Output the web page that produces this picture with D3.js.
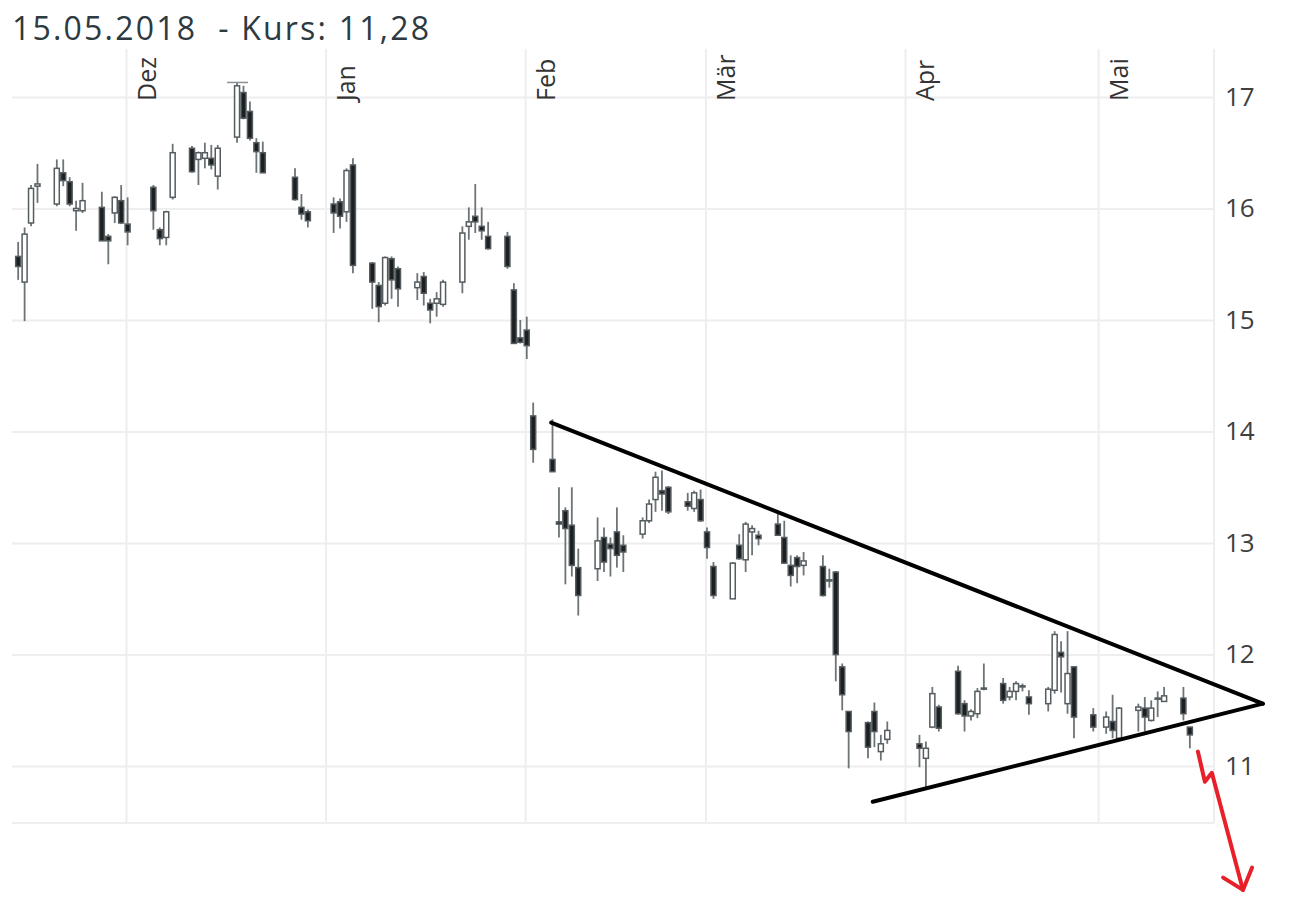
<!DOCTYPE html>
<meta charset="utf-8" />

<style>
  body {
    margin: 0;
    background-color: #fff;
  }
  svg {
    display: block;
  }
  .title {
    font-family: "Open Sans", sans-serif;
    white-space: pre;
  }
  .tick text {
    font-family: "Open Sans", sans-serif;
  }
</style>

<!-- Load d3.js -->
<script src="https://d3js.org/d3.v7.min.js"></script>

<svg id="chart" width="1295" height="901"></svg>

<script>
  // daily candles
  const dates = [
    "2017-11-14", "2017-11-15", "2017-11-16", "2017-11-17",
    "2017-11-20", "2017-11-21", "2017-11-22", "2017-11-23", "2017-11-24",
    "2017-11-27", "2017-11-28", "2017-11-29", "2017-11-30", "2017-12-01",
    "2017-12-05", "2017-12-06", "2017-12-07", "2017-12-08",
    "2017-12-11", "2017-12-12", "2017-12-13", "2017-12-14", "2017-12-15",
    "2017-12-18", "2017-12-19", "2017-12-20", "2017-12-21", "2017-12-22",
    "2017-12-27", "2017-12-28", "2017-12-29",
    "2018-01-02", "2018-01-03", "2018-01-04", "2018-01-05",
    "2018-01-08", "2018-01-09", "2018-01-10", "2018-01-11", "2018-01-12",
    "2018-01-15", "2018-01-16", "2018-01-17", "2018-01-18", "2018-01-19",
    "2018-01-22", "2018-01-23", "2018-01-24", "2018-01-25", "2018-01-26",
    "2018-01-29", "2018-01-30", "2018-01-31", "2018-02-01", "2018-02-02",
    "2018-02-05", "2018-02-06", "2018-02-07", "2018-02-08", "2018-02-09",
    "2018-02-12", "2018-02-13", "2018-02-14", "2018-02-15", "2018-02-16",
    "2018-02-19", "2018-02-20", "2018-02-21", "2018-02-22", "2018-02-23",
    "2018-02-26", "2018-02-27", "2018-02-28", "2018-03-01", "2018-03-02",
    "2018-03-05", "2018-03-06", "2018-03-07", "2018-03-08", "2018-03-09",
    "2018-03-12", "2018-03-13", "2018-03-14", "2018-03-15", "2018-03-16",
    "2018-03-19", "2018-03-20", "2018-03-21", "2018-03-22", "2018-03-23",
    "2018-03-26", "2018-03-27", "2018-03-28", "2018-03-29",
    "2018-04-03", "2018-04-04", "2018-04-05", "2018-04-06",
    "2018-04-09", "2018-04-10", "2018-04-11", "2018-04-12", "2018-04-13",
    "2018-04-16", "2018-04-17", "2018-04-18", "2018-04-19", "2018-04-20",
    "2018-04-23", "2018-04-24", "2018-04-25", "2018-04-26", "2018-04-27",
    "2018-04-30", "2018-05-02", "2018-05-03", "2018-05-04",
    "2018-05-07", "2018-05-08", "2018-05-09", "2018-05-10", "2018-05-11",
    "2018-05-14", "2018-05-15"
  ];
  const open = [
    15.57, 15.34, 15.87, 16.20,
    16.04, 16.32, 16.24, 15.98, 15.98,
    16.01, 15.75, 15.96, 16.07, 15.86,
    16.19, 15.81, 15.74, 16.10,
    16.54, 16.44, 16.45, 16.45, 16.29,
    16.64, 17.04, 16.87, 16.59, 16.50,
    16.28, 16.01, 15.97,
    16.04, 16.06, 15.97, 16.39,
    15.51, 15.31, 15.15, 15.55, 15.46,
    15.29, 15.39, 15.15, 15.15, 15.14,
    15.34, 15.84, 15.93, 15.84, 15.75,
    15.75, 15.27, 14.84, 14.91, 14.14,
    13.75, 13.19, 13.29, 13.16, 12.78,
    12.77, 13.05, 12.99, 13.10, 12.98,
    13.08, 13.20, 13.39, 13.47, 13.50,
    13.37, 13.31, 13.39, 13.10, 12.79,
    12.50, 12.98, 12.85, 13.10, 13.07,
    13.17, 13.05, 12.80, 12.87, 12.80,
    12.79, 12.67, 12.74, 11.89, 11.49,
    11.39, 11.49, 11.13, 11.24,
    11.20, 11.07, 11.35, 11.53,
    11.85, 11.56, 11.45, 11.47, 11.69,
    11.74, 11.62, 11.67, 11.72, 11.62,
    11.56, 11.68, 12.02, 11.56, 11.89,
    11.46, 11.35, 11.40, 11.25,
    11.50, 11.52, 11.41, 11.60, 11.58,
    11.61, 11.35
  ];
  const high = [
    15.70, 15.83, 16.21, 16.40,
    16.44, 16.44, 16.28, 16.07, 16.23,
    16.15, 15.77, 16.11, 16.21, 16.10,
    16.21, 15.83, 15.98, 16.58,
    16.56, 16.51, 16.59, 16.57, 16.57,
    17.13, 17.10, 16.96, 16.63, 16.60,
    16.36, 16.13, 15.99,
    16.10, 16.09, 16.36, 16.45,
    15.52, 15.34, 15.57, 15.57, 15.48,
    15.42, 15.43, 15.19, 15.25, 15.36,
    15.84, 16.01, 16.22, 16.01, 15.88,
    15.79, 15.33, 15.00, 15.03, 14.26,
    14.11, 13.50, 13.32, 13.50, 12.95,
    13.23, 13.14, 13.05, 13.32, 13.07,
    13.23, 13.39, 13.64, 13.65, 13.51,
    13.45, 13.47, 13.48, 13.14, 12.83,
    12.83, 13.08, 13.19, 13.16, 13.11,
    13.26, 13.20, 12.89, 12.89, 12.92,
    12.89, 12.77, 12.75, 11.92, 11.49,
    11.40, 11.57, 11.28, 11.40,
    11.28, 11.22, 11.71, 11.55,
    11.90, 11.59, 11.51, 11.70, 11.92,
    11.79, 11.71, 11.76, 11.74, 11.68,
    11.71, 12.21, 12.12, 12.21, 11.89,
    11.52, 11.49, 11.64, 11.53,
    11.56, 11.62, 11.59, 11.67, 11.71,
    11.71, 11.35
  ];
  const low = [
    15.36, 14.99, 15.84, 16.05,
    16.02, 16.20, 16.02, 15.80, 15.96,
    15.71, 15.50, 15.87, 15.86, 15.67,
    15.81, 15.67, 15.67, 16.08,
    16.32, 16.21, 16.36, 16.35, 16.17,
    16.59, 16.80, 16.61, 16.32, 16.32,
    16.07, 15.90, 15.83,
    15.78, 15.82, 15.88, 15.42,
    15.10, 14.98, 15.13, 15.19, 15.12,
    15.18, 15.13, 14.97, 15.03, 15.12,
    15.24, 15.72, 15.78, 15.72, 15.63,
    15.46, 14.79, 14.79, 14.65, 13.72,
    13.64, 13.05, 12.63, 12.70, 12.35,
    12.66, 12.74, 12.70, 12.78, 12.74,
    13.04, 13.18, 13.28, 13.29, 13.26,
    13.29, 13.28, 13.19, 12.86, 12.50,
    12.50, 12.85, 12.74, 12.89, 12.98,
    13.07, 12.82, 12.61, 12.64, 12.71,
    12.52, 12.60, 11.76, 11.50, 10.98,
    11.07, 11.17, 11.05, 11.20,
    10.99, 10.80, 11.34, 11.31,
    11.46, 11.31, 11.41, 11.43, 11.68,
    11.56, 11.59, 11.59, 11.67, 11.46,
    11.49, 11.65, 11.66, 11.47, 11.25,
    11.31, 11.29, 11.25, 11.25,
    11.31, 11.31, 11.40, 11.44, 11.58,
    11.41, 11.16
  ];
  const close = [
    15.48, 15.77, 16.18, 16.22,
    16.36, 16.25, 16.04, 16.00, 16.07,
    15.71, 15.71, 16.10, 15.87, 15.79,
    15.98, 15.73, 15.97, 16.50,
    16.33, 16.50, 16.50, 16.39, 16.54,
    17.10, 16.81, 16.63, 16.51, 16.32,
    16.08, 15.95, 15.89,
    15.96, 15.93, 16.34, 15.49,
    15.34, 15.12, 15.56, 15.36, 15.28,
    15.34, 15.24, 15.09, 15.19, 15.34,
    15.78, 15.88, 15.88, 15.80, 15.64,
    15.48, 14.79, 14.80, 14.77, 13.84,
    13.64, 13.17, 13.13, 12.80, 12.53,
    13.02, 12.83, 12.95, 12.89, 12.92,
    13.20, 13.35, 13.59, 13.44, 13.28,
    13.33, 13.45, 13.20, 12.96, 12.53,
    12.82, 12.86, 13.17, 13.13, 13.04,
    13.07, 12.82, 12.71, 12.79, 12.84,
    12.53, 12.66, 12.00, 11.64, 11.31,
    11.17, 11.31, 11.20, 11.32,
    11.16, 11.16, 11.65, 11.34,
    11.47, 11.45, 11.49, 11.67, 11.70,
    11.59, 11.67, 11.74, 11.71, 11.56,
    11.69, 12.18, 11.98, 11.83, 11.44,
    11.35, 11.44, 11.32, 11.52,
    11.53, 11.44, 11.52, 11.61, 11.63,
    11.47, 11.28
  ];

  const monthTicks = ["2017-12-01", "2018-01-01", "2018-02-01", "2018-03-01", "2018-04-01", "2018-05-01"];
  const monthLabels = ["Dez", "Jan", "Feb", "Mär", "Apr", "Mai"];
  const priceTicks = [11, 12, 13, 14, 15, 16, 17];

  // hand drawn triangle and arrow, as [date, price]
  const upperTrend = [["2018-02-05T01:00", 14.08], ["2018-05-26T14:00", 11.56]];
  const lowerTrend = [["2018-03-27T00:00", 10.68], ["2018-05-26T14:00", 11.56]];
  const redArrow = [
    ["2018-05-16T12:00", 11.13], ["2018-05-17T14:00", 10.86],
    ["2018-05-18T16:00", 10.94], ["2018-05-23T12:00", 9.89]
  ];
  const redArrowHead = [
    ["2018-05-20T10:00", 10.00], ["2018-05-23T12:00", 9.89], ["2018-05-24T22:00", 10.09]
  ];

  const svg = d3.select('#chart');

  const plotLeft = 12, plotRight = 1214, plotTop = 49, plotBottom = 823;

  const parseDay = d3.timeParse('%Y-%m-%d');
  const parseTime = d3.timeParse('%Y-%m-%dT%H:%M');

  const x = d3.scaleTime()
    .domain([new Date(2017, 10, 13, 7), new Date(2018, 4, 19, 0)])
    .range([plotLeft, plotRight]);
  const y = d3.scaleLinear()
    .domain([10.49, 17.43])
    .range([plotBottom, plotTop]);

  const candles = dates.map(function (d, i) {
    return {
      date: d3.timeHour.offset(parseDay(d), 6),
      open: open[i], high: high[i], low: low[i], close: close[i]
    };
  });

  // horizontal grid + price labels
  const yAxis = svg.append('g')
    .attr('transform', 'translate(' + plotRight + ',0)')
    .call(d3.axisRight(y)
      .tickValues(priceTicks)
      .tickFormat(d3.format('d'))
      .tickSize(-(plotRight - plotLeft))
      .tickPadding(11));
  yAxis.select('.domain').remove();
  yAxis.selectAll('.tick line').attr('stroke', '#eeeeee').attr('stroke-width', 2);
  yAxis.selectAll('.tick text')
    .attr('fill', '#404040')
    .style('font-size', '26px');

  // vertical grid + month labels
  const xAxis = svg.append('g')
    .attr('transform', 'translate(0,' + plotBottom + ')')
    .call(d3.axisBottom(x)
      .tickValues(monthTicks.map(parseDay))
      .tickSize(-(plotBottom - plotTop))
      .tickFormat(function (d, i) { return monthLabels[i]; }));
  xAxis.select('.domain').remove();
  xAxis.selectAll('.tick line').attr('stroke', '#eeeeee').attr('stroke-width', 2);
  xAxis.selectAll('.tick text')
    .attr('fill', '#333')
    .attr('text-anchor', 'start')
    .attr('x', 0).attr('y', 0).attr('dy', 0)
    .attr('transform', 'translate(29,' + (101 - plotBottom) + ') rotate(-90)')
    .style('font-size', '25px');

  // frame lines: bottom and right edge
  svg.append('line')
    .attr('x1', plotLeft).attr('x2', plotRight)
    .attr('y1', plotBottom).attr('y2', plotBottom)
    .attr('stroke', '#eeeeee').attr('stroke-width', 2);
  svg.append('line')
    .attr('x1', plotRight).attr('x2', plotRight)
    .attr('y1', plotTop).attr('y2', plotBottom)
    .attr('stroke', '#eeeeee').attr('stroke-width', 2);

  // candles
  const bodyW = 5;
  const g = svg.append('g');
  const c = g.selectAll('g.candle')
    .data(candles)
    .enter()
    .append('g')
    .attr('class', 'candle');

  c.append('line')
    .attr('x1', function (d) { return x(d.date); })
    .attr('x2', function (d) { return x(d.date); })
    .attr('y1', function (d) { return y(d.high); })
    .attr('y2', function (d) { return y(d.low); })
    .attr('stroke', '#6d7477')
    .attr('stroke-width', 1.8);

  c.append('rect')
    .attr('x', function (d) { return x(d.date) - bodyW / 2; })
    .attr('width', bodyW)
    .attr('y', function (d) { return y(Math.max(d.open, d.close)); })
    .attr('height', function (d) { return Math.max(1, Math.abs(y(d.open) - y(d.close))); })
    .attr('fill', function (d) { return d.close >= d.open ? '#fff' : '#1c2022'; })
    .attr('stroke', '#555c5f')
    .attr('stroke-width', 1.5);

  // marker at the period high
  const maxCandle = candles[d3.maxIndex(candles, function (d) { return d.high; })];
  svg.append('line')
    .attr('x1', x(maxCandle.date) - 10).attr('x2', x(maxCandle.date) + 11)
    .attr('y1', y(maxCandle.high)).attr('y2', y(maxCandle.high))
    .attr('stroke', '#8a9194').attr('stroke-width', 1.5);

  // annotations
  const line = d3.line()
    .x(function (d) { return x(parseTime(d[0])); })
    .y(function (d) { return y(d[1]); });

  [upperTrend, lowerTrend].forEach(function (pts) {
    svg.append('path')
      .attr('d', line(pts))
      .attr('fill', 'none')
      .attr('stroke', '#000')
      .attr('stroke-width', 4)
      .attr('stroke-linecap', 'round');
  });

  [redArrow, redArrowHead].forEach(function (pts) {
    svg.append('path')
      .attr('d', line(pts))
      .attr('fill', 'none')
      .attr('stroke', '#e8202a')
      .attr('stroke-width', 4)
      .attr('stroke-linecap', 'round')
      .attr('stroke-linejoin', 'round');
  });

  // title
  svg.append('text')
    .attr('class', 'title')
    .attr('x', 12)
    .attr('y', 40)
    .attr('fill', '#2d3a3f')
    .style('font-size', '32px')
    .style('letter-spacing', '2.2px')
    .text('15.05.2018  - Kurs: 11,28');
</script>
